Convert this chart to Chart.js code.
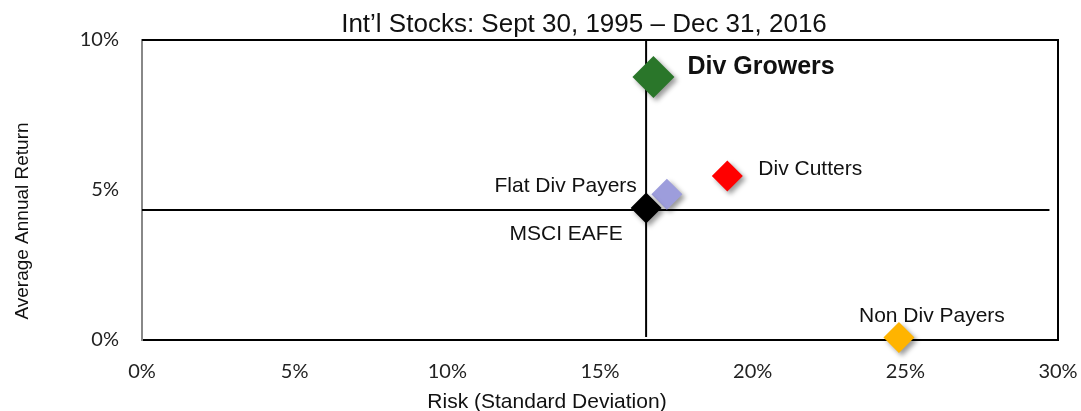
<!DOCTYPE html>
<html>
<head>
<meta charset="utf-8">
<script src="https://cdn.jsdelivr.net/npm/chart.js@4.4.1/dist/chart.umd.min.js"></script>
<style>
  html, body { margin: 0; padding: 0; background: #fff; }
  #wrap { width: 1081px; height: 411px; }
</style>
</head>
<body>
<div id="wrap"><canvas id="riskChart" width="1081" height="411"></canvas></div>
<script>
// Datos (riesgo y retorno en %)
const seriesNames = ['Non Div Payers', 'Div Cutters', 'Flat Div Payers', 'MSCI EAFE', 'Div Growers'];
const riskValues = [24.79, 19.17, 17.19, 16.51, 16.75];
const returnValues = [0.08, 5.47, 4.86, 4.40, 8.77];
const markerColors = ['#ffb400', '#ff0000', '#9d9ddc', '#000000', '#2a762a'];
const markerSizes = [15.5, 15.5, 15.5, 15.5, 21];

// Lineas de referencia (cruz sobre el MSCI EAFE)
const crossRisk = [16.51, 16.51];
const crossRiskReturn = [0.1, 10];
const crossReturnRisk = [0, 29.72];
const crossReturn = [4.33, 4.33];

const xTicks = [0, 5, 10, 15, 20, 25, 30];
const yTicks = [0, 5, 10];

const FONT = '"Liberation Sans", Arial, sans-serif';

// Plugin: sombra de los marcadores, marco y textos
const decoPlugin = {
    id: 'deco',
    beforeDatasetsDraw(chart) {
        const { ctx, chartArea: a } = chart;
        ctx.save();
        ctx.strokeStyle = '#000';
        ctx.lineWidth = 2;
        ctx.beginPath();
        ctx.moveTo(a.left, a.top);
        ctx.lineTo(a.right, a.top);
        ctx.lineTo(a.right, a.bottom);
        ctx.stroke();
        ctx.restore();
    },
    beforeDatasetDraw(chart, args) {
        if (args.index === 0) {
            const ctx = chart.ctx;
            ctx.save();
            ctx.shadowColor = 'rgba(0,0,0,0.4)';
            ctx.shadowBlur = 5;
            ctx.shadowOffsetX = 3;
            ctx.shadowOffsetY = 3;
        }
    },
    afterDatasetDraw(chart, args) {
        if (args.index === 0) chart.ctx.restore();
    },
    afterDraw(chart) {
        const ctx = chart.ctx;
        const xs = chart.scales.x, ys = chart.scales.y;
        ctx.save();
        ctx.fillStyle = '#111';

        // titulo
        ctx.font = '26px ' + FONT;
        ctx.textAlign = 'center';
        ctx.textBaseline = 'alphabetic';
        ctx.fillText('Int\u2019l Stocks: Sept 30, 1995 \u2013 Dec 31, 2016', 584, 32);

        // titulos de ejes
        ctx.font = '21px ' + FONT;
        ctx.fillText('Risk (Standard Deviation)', 547, 408);
        ctx.save();
        ctx.translate(28, 221);
        ctx.rotate(-Math.PI / 2);
        ctx.font = '19px ' + FONT;
        ctx.fillText('Average Annual Return', 0, 0);
        ctx.restore();

        // etiquetas de las series
        const px = i => xs.getPixelForValue(riskValues[i]);
        const py = i => ys.getPixelForValue(returnValues[i]);
        ctx.font = 'bold 25px ' + FONT;
        ctx.textAlign = 'left';
        ctx.fillText(seriesNames[4], px(4) + 34, py(4) - 3);
        ctx.font = '21px ' + FONT;
        ctx.fillText(seriesNames[1], px(1) + 31, py(1) - 1);
        ctx.textAlign = 'right';
        ctx.fillText(seriesNames[2], px(2) - 30, py(2) - 2);
        ctx.textAlign = 'center';
        ctx.fillText(seriesNames[3], px(3) - 80, py(3) + 32);
        ctx.fillText(seriesNames[0], px(0) + 33, py(0) - 16);
        ctx.restore();
    }
};

const ctx = document.getElementById('riskChart');

new Chart(ctx, {
    type: 'scatter',
    data: {
        datasets: [
            {
                label: 'Series',
                data: riskValues.map((r, i) => ({ x: r, y: returnValues[i] })),
                pointStyle: 'rectRot',
                pointRadius: markerSizes,
                pointHoverRadius: markerSizes,
                pointBackgroundColor: markerColors,
                pointBorderWidth: 0,
                borderWidth: 0,
                clip: false,
                order: 1
            },
            {
                label: 'vertical',
                type: 'line',
                data: crossRisk.map((r, i) => ({ x: r, y: crossRiskReturn[i] })),
                borderColor: '#000',
                borderWidth: 2,
                pointRadius: 0,
                order: 2
            },
            {
                label: 'horizontal',
                type: 'line',
                data: crossReturnRisk.map((r, i) => ({ x: r, y: crossReturn[i] })),
                borderColor: '#000',
                borderWidth: 2,
                pointRadius: 0,
                order: 3
            }
        ]
    },
    options: {
        responsive: false,
        animation: false,
        devicePixelRatio: 1,
        layout: { padding: { top: 40, right: 23, left: 0, bottom: 0 } },
        plugins: {
            legend: { display: false },
            tooltip: { enabled: false }
        },
        scales: {
            x: {
                type: 'linear',
                min: 0,
                max: 30,
                afterFit: s => { s.height = 71; s.paddingLeft = 0; s.paddingRight = 0; },
                afterBuildTicks: s => { s.ticks = xTicks.map(v => ({ value: v })); },
                grid: { display: false, drawTicks: false },
                border: { color: '#000', width: 2 },
                ticks: {
                    padding: 20,
                    color: '#222',
                    font: { family: 'Lato, sans-serif', size: 20 },
                    callback: v => v + '%'
                }
            },
            y: {
                type: 'linear',
                min: 0,
                max: 10,
                afterFit: s => { s.width = 142; s.paddingTop = 0; s.paddingBottom = 0; },
                afterBuildTicks: s => { s.ticks = yTicks.map(v => ({ value: v })); },
                grid: { display: false, drawTicks: false },
                border: { color: '#888', width: 2 },
                ticks: {
                    padding: 23,
                    color: '#222',
                    font: { family: 'Lato, sans-serif', size: 20 },
                    callback: v => v + '%'
                }
            }
        }
    },
    plugins: [decoPlugin]
});
</script>
</body>
</html>
